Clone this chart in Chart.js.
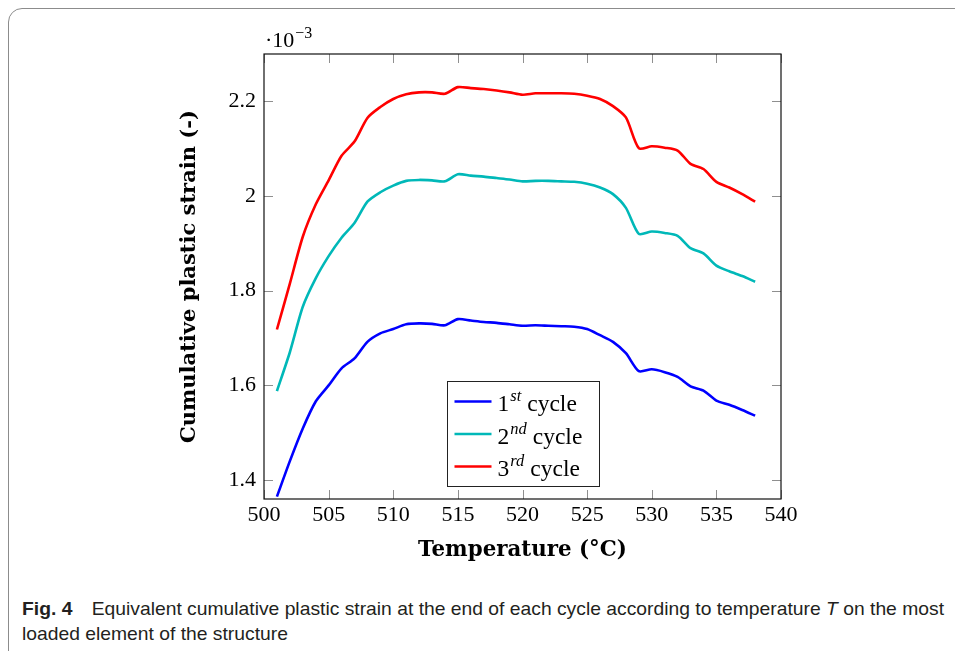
<!DOCTYPE html>
<html><head><meta charset="utf-8">
<script src="https://cdn.jsdelivr.net/npm/chart.js@4.4.1/dist/chart.umd.min.js"></script>
<style>
html,body{margin:0;padding:0;background:#fff;width:955px;height:651px;overflow:hidden;}
#frame{position:absolute;left:8px;top:8px;width:1000px;height:700px;border:1px solid #8c8c8c;border-radius:14px;box-sizing:border-box;}
#c{position:absolute;left:0;top:0;}
#cap{position:absolute;left:22px;top:596px;font-family:'Liberation Sans Narrow','Liberation Sans',sans-serif;font-size:19px;color:#231f20;line-height:25px;white-space:nowrap;}
.ln{display:block;transform-origin:0 0;width:max-content;}
</style></head><body>
<div id="frame"></div>
<canvas id="c" width="955" height="580"></canvas>
<div id="cap"><span class="ln" id="l1"><b>Fig. 4</b>&emsp;Equivalent cumulative plastic strain at the end of each cycle according to temperature <i>T</i> on the most</span><span class="ln" id="l2">loaded element of the structure</span></div>
<script>
// ---- data (values in units of 10^-3) ----
const temperatures = [501,502,503,504,505,506,507,508,509,510,511,512,513,514,515,516,517,518,519,520,521,522,523,524,525,526,527,528,529,530,531,532,533,534,535,536,537,538];
const cycle1 = [1.365,1.440,1.509,1.566,1.600,1.636,1.657,1.692,1.710,1.719,1.729,1.731,1.730,1.727,1.740,1.737,1.734,1.732,1.729,1.726,1.727,1.726,1.725,1.724,1.719,1.706,1.692,1.668,1.630,1.634,1.628,1.618,1.598,1.589,1.568,1.559,1.548,1.536];
const cycle2 = [1.588,1.670,1.766,1.826,1.873,1.912,1.943,1.988,2.008,2.022,2.032,2.034,2.033,2.031,2.046,2.043,2.041,2.038,2.035,2.031,2.032,2.032,2.031,2.030,2.026,2.018,2.004,1.975,1.920,1.925,1.922,1.916,1.890,1.879,1.853,1.841,1.831,1.819];
const cycle3 = [1.718,1.815,1.914,1.982,2.033,2.085,2.115,2.165,2.188,2.205,2.215,2.219,2.219,2.216,2.230,2.228,2.226,2.223,2.219,2.214,2.217,2.217,2.217,2.216,2.212,2.205,2.190,2.166,2.101,2.105,2.102,2.096,2.068,2.057,2.030,2.018,2.004,1.988];
const seriesNames = [['1','st'],['2','nd'],['3','rd']];
const xTickValues = [500,505,510,515,520,525,530,535,540];
const xTickLabels = ['500','505','510','515','520','525','530','535','540'];
const yTickValues = [1.4,1.6,1.8,2.0,2.2];
const yTickLabels = ['1.4','1.6','1.8','2','2.2'];
const xTitle = 'Temperature (°C)';
const yTitle = 'Cumulative plastic strain (-)';

const colors = ['#0000ff','#00b8b8','#ff0000'];
const serif = '"Liberation Serif", "Times New Roman", serif';
const titleFam = '"DejaVu Serif", serif';

// fit title font sizes to measured widths
const mctx = document.createElement('canvas').getContext('2d');
function fitSize(text, fam, target){ mctx.font = 'bold 20px ' + fam; return 20*target/mctx.measureText(text).width; }
const yTitleSize = fitSize(yTitle, titleFam, 333);
const xTitleSize = fitSize(xTitle, titleFam, 209);

function pts(vals){ return temperatures.map((t,i)=>({x:t,y:vals[i]})); }
const datasets = [cycle1,cycle2,cycle3].map((v,i)=>({
  label: seriesNames[i].join('') + ' cycle', data: pts(v), borderColor: colors[i], backgroundColor: colors[i],
  borderWidth: 2.6, pointRadius: 0, tension: 0.25, fill:false
}));

const decor = {
  id:'decor',
  beforeDatasetsDraw(chart){
    const {ctx, chartArea:a, scales:{x,y}} = chart;
    ctx.save();
    ctx.strokeStyle='#8f8f8f'; ctx.lineWidth=1;
    ctx.beginPath();
    for (const v of xTickValues){ const px=Math.round(x.getPixelForValue(v))+0.5; ctx.moveTo(px,a.bottom); ctx.lineTo(px,a.bottom-9); ctx.moveTo(px,a.top); ctx.lineTo(px,a.top+9);}
    for (const v of yTickValues){ const py=Math.round(y.getPixelForValue(v))+0.5; ctx.moveTo(a.left,py); ctx.lineTo(a.left+9,py); ctx.moveTo(a.right,py); ctx.lineTo(a.right-9,py);}
    ctx.stroke();
    ctx.restore();
  },
  afterDatasetsDraw(chart){
    const {ctx, chartArea:a} = chart;
    ctx.save();
    ctx.strokeStyle='#111'; ctx.lineWidth=1.2;
    ctx.strokeRect(a.left, a.top, a.right-a.left, a.bottom-a.top);
    // legend
    const w=152, h=105;
    const lx = Math.round((a.left+a.right)/2 - w/2)+0.5, ly = Math.round(a.bottom - 13 - h)+0.5;
    ctx.fillStyle='#fff'; ctx.fillRect(lx,ly,w,h);
    ctx.strokeStyle='#222'; ctx.lineWidth=1; ctx.strokeRect(lx,ly,w,h);
    seriesNames.forEach((nm,i)=>{
      const yy = ly + 20 + i*32.5;
      ctx.strokeStyle=colors[i]; ctx.lineWidth=2.6;
      ctx.beginPath(); ctx.moveTo(lx+7,yy); ctx.lineTo(lx+44,yy); ctx.stroke();
      ctx.fillStyle='#000'; ctx.textBaseline='alphabetic'; ctx.textAlign='left';
      let tx = lx+50; const base = yy+9.5;
      ctx.font='23.5px '+serif; ctx.fillText(nm[0], tx, base); tx += ctx.measureText(nm[0]).width + 1;
      ctx.font='italic 16.5px '+serif; ctx.fillText(nm[1], tx, base-10); tx += ctx.measureText(nm[1]).width + 6;
      ctx.font='23.5px '+serif; ctx.fillText('cycle', tx, base);
    });
    // exponent label
    ctx.fillStyle='#000'; ctx.font='22px '+serif; ctx.textAlign='left';
    ctx.fillText('·10', a.left+1, 47);
    const ww = ctx.measureText('·10').width;
    ctx.font='16px '+serif; ctx.fillText('−3', a.left+1+ww+1, 38);
    ctx.restore();
  }
};

new Chart(document.getElementById('c'), {
  type:'line',
  data:{datasets},
  plugins:[decor],
  options:{
    responsive:false, animation:false, devicePixelRatio:1,
    layout:{padding:{left:150, top:54, right:174, bottom:12}},
    plugins:{legend:{display:false}, tooltip:{enabled:false}},
    scales:{
      x:{type:'linear', min:500, max:540,
        afterBuildTicks:s=>{ s.ticks = xTickValues.map(v=>({value:v})); },
        afterFit:s=>{ s.height = 69; },
        ticks:{font:{family:serif,size:22}, color:'#000', padding:3, maxRotation:0, autoSkip:false,
          callback:(v)=>{ const i=xTickValues.indexOf(v); return i>=0?xTickLabels[i]:''; }},
        grid:{display:false, drawTicks:false}, border:{display:false},
        title:{display:true, text:xTitle, color:'#000', font:{family:titleFam, size:xTitleSize, weight:'bold', lineHeight:1.2}, padding:{top:0,bottom:568-550-xTitleSize*0.6}}
      },
      y:{type:'linear', min:1.36, max:2.30,
        afterBuildTicks:s=>{ s.ticks = yTickValues.map(v=>({value:v})); },
        afterFit:s=>{ s.width = 114; },
        ticks:{font:{family:serif,size:22}, color:'#000', padding:8,
          callback:(v)=>{ const i=yTickValues.findIndex(t=>Math.abs(t-v)<1e-9); return i>=0?yTickLabels[i]:''; }},
        grid:{display:false, drawTicks:false}, border:{display:false},
        title:{display:true, text:yTitle, color:'#000', font:{family:titleFam, size:yTitleSize, weight:'bold', lineHeight:1.2}, padding:{top:190-150-yTitleSize*0.6, bottom:0}}
      }
    }
  }
});

// fit caption width
const l1 = document.getElementById('l1'), l2 = document.getElementById('l2');
const sc = 922 / l1.getBoundingClientRect().width;
l1.style.transform = 'scaleX('+sc+')';
l2.style.transform = 'scaleX('+sc+')';
</script>
</body></html>
